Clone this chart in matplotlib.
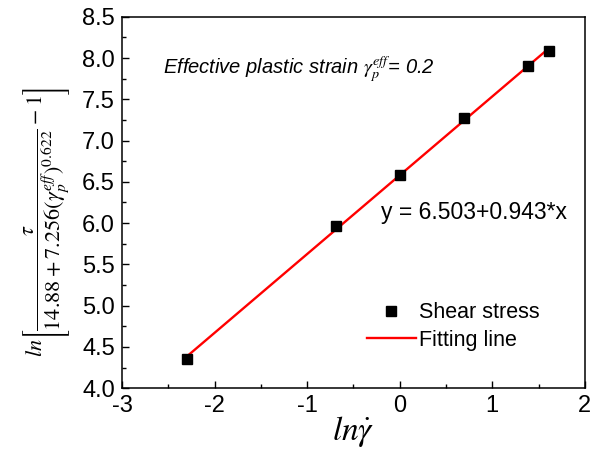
import numpy as np
import matplotlib
matplotlib.use("Agg")
import matplotlib.pyplot as plt

plt.rcParams['font.family'] = ['Liberation Sans', 'DejaVu Sans']
plt.rcParams['mathtext.fontset'] = 'stix'
plt.rcParams['axes.unicode_minus'] = False

# data
ln_rate = [-2.303, -0.693, 0.0, 0.693, 1.386, 1.609]
ln_stress = [4.35, 5.96, 6.58, 7.27, 7.90, 8.08]
fit_text = 'y = 6.503+0.943*x'

fig = plt.figure(figsize=(5.98, 4.54), dpi=100)
ax = fig.add_axes([0.204, 0.145, 0.774, 0.818])

# linear fit through the points
slope, intercept = np.polyfit(ln_rate, ln_stress, 1)
xfit = np.array([min(ln_rate), max(ln_rate)])
ax.plot(xfit, intercept + slope * xfit, color='#ff0000', lw=1.7, label='Fitting line', zorder=2)
ax.plot(ln_rate, ln_stress, 's', color='black', ms=7, label='Shear stress', zorder=3)

ax.set_xlim(-3, 2)
ax.set_ylim(4.0, 8.5)
ax.set_xticks(np.arange(-3, 2.1, 1))
ax.set_xticks(np.arange(-2.5, 2, 1), minor=True)
ax.set_yticks(np.arange(4.0, 8.51, 0.5))
ax.set_yticks(np.arange(4.25, 8.5, 0.5), minor=True)
ax.set_yticklabels(['%.1f' % v for v in np.arange(4.0, 8.51, 0.5)])
ax.tick_params(which='both', direction='in', labelsize=17, top=False, right=False)
ax.tick_params(which='major', length=5, width=1, pad=5)
ax.tick_params(which='minor', length=3, width=1)
for s in ax.spines.values():
    s.set_linewidth(1.1)

ax.set_xlabel(r'$ln\dot{\gamma}$', fontsize=24, labelpad=-2)
ax.set_ylabel(r'$ln\left[\dfrac{\tau}{14.88+7.256(\gamma_p^{eff})^{0.622}}-1\right]$',
              fontsize=16)
ax.yaxis.set_label_coords(-0.108, 0.447)

ax.text(-2.56, 7.86, r'Effective plastic strain $\gamma_p^{eff}$= 0.2', fontsize=14.5,
        style='italic', va='center')
ax.text(-0.2, 6.13, fit_text, fontsize=16.5, va='center')

h, l = ax.get_legend_handles_labels()
ax.legend([h[1], h[0]], [l[1], l[0]], loc='upper left', bbox_to_anchor=(0.51, 0.255),
          frameon=False, fontsize=15.5, handlelength=2.3, handletextpad=0.15,
          labelspacing=0.3, borderaxespad=0)

fig.savefig('out.png', dpi=100)
